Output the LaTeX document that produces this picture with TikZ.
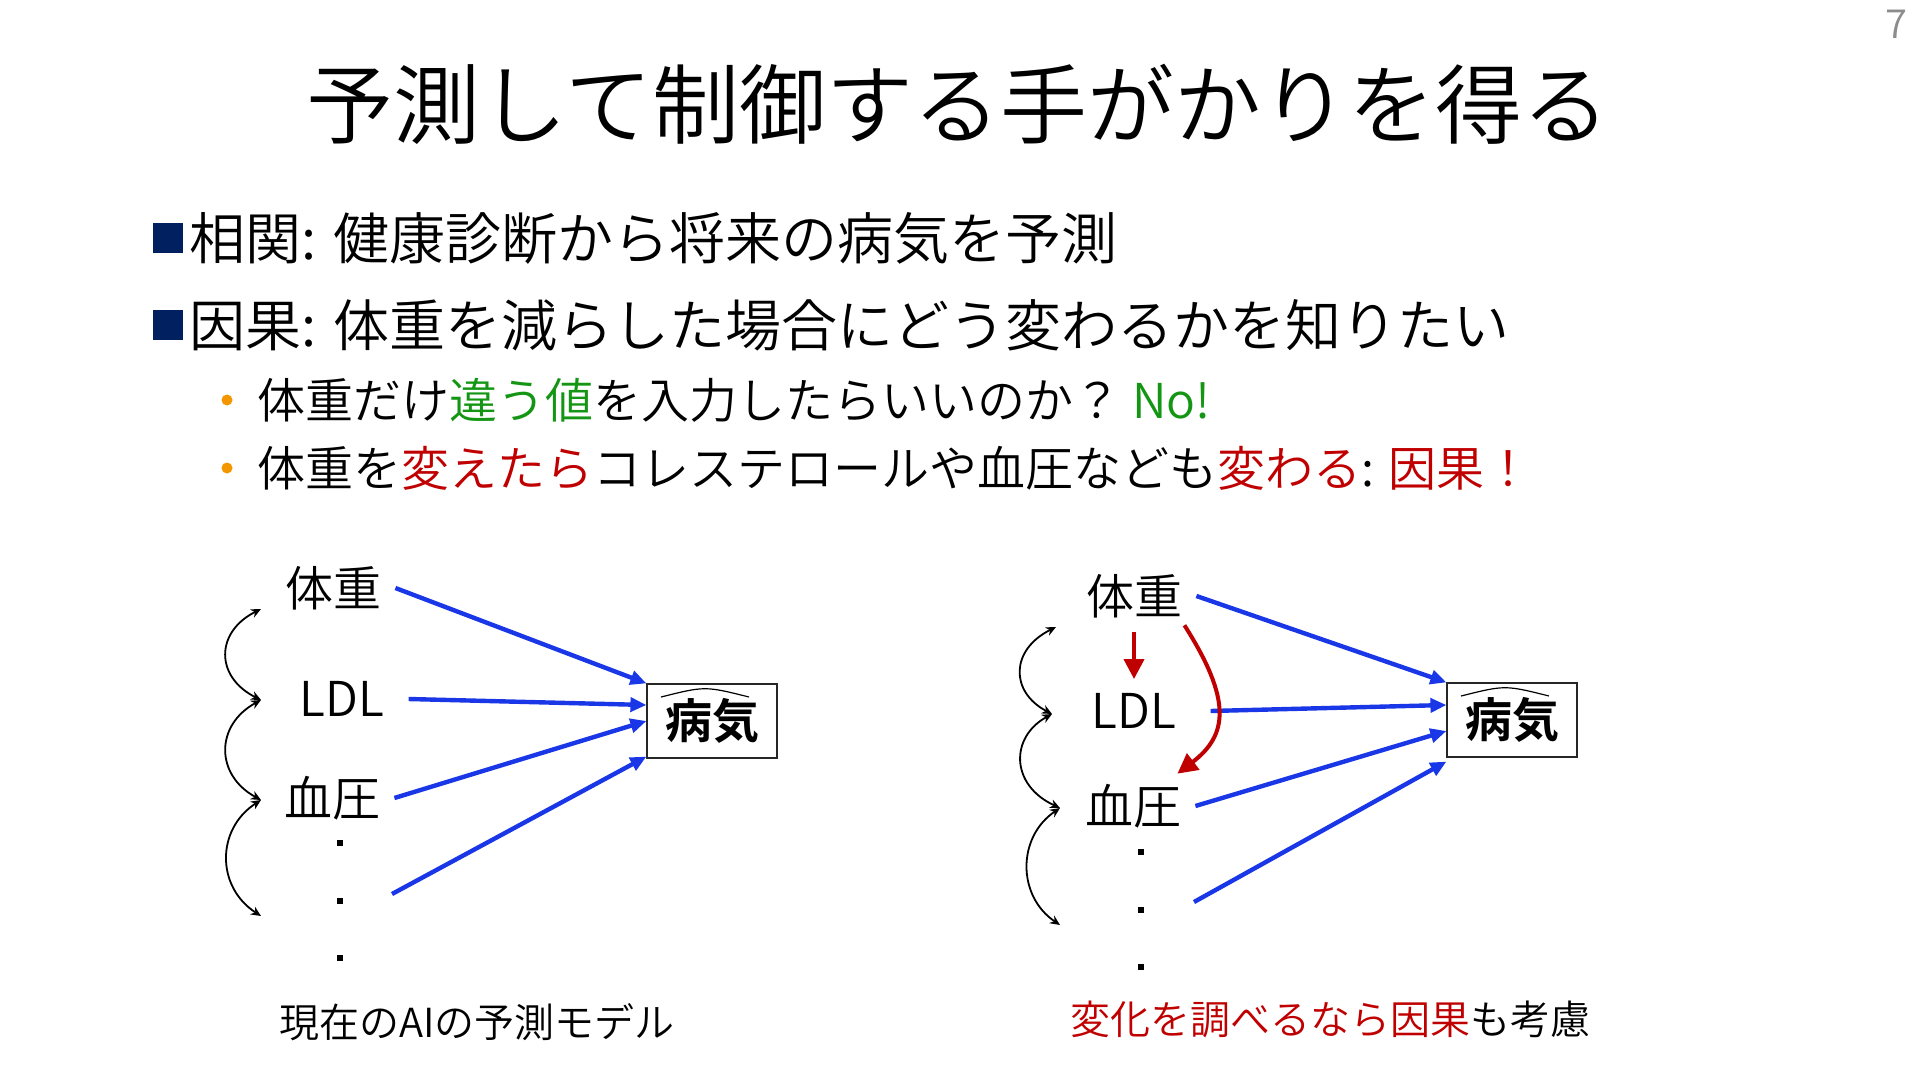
\documentclass[tikz,border=0pt]{standalone}
\usepackage{fontspec}
\IfFontExistsTF{Noto Sans CJK JP DemiLight}
  {\setmainfont{Noto Sans CJK JP DemiLight}[BoldFont={Noto Sans CJK JP Bold}]}
  {\IfFontExistsTF{Noto Sans CJK JP Light}
    {\setmainfont{Noto Sans CJK JP Light}[BoldFont={Noto Sans CJK JP Bold}]}
    {\setmainfont{Noto Sans CJK JP}}}
\usetikzlibrary{arrows.meta, positioning, calc}
\definecolor{bulletnavy}{RGB}{0,32,96}
\definecolor{dotorange}{RGB}{243,150,0}
\definecolor{causered}{RGB}{192,0,0}
\definecolor{okgreen}{RGB}{20,150,20}
\definecolor{arrowblue}{RGB}{25,55,230}
\definecolor{pagegray}{RGB}{140,140,140}

\begin{document}
\begin{tikzpicture}[
  x=0.5pt, y=-0.5pt,
  txt/.style={inner sep=0pt, anchor=west},
  titletext/.style={inner sep=0pt, font=\fontsize{43.5}{52}\selectfont},
  mainline/.style={txt, font=\fontsize{28}{34}\selectfont},
  subline/.style={txt, font=\fontsize{24}{29}\selectfont},
  sqbullet/.style={rectangle, fill=bulletnavy, minimum size=15pt, inner sep=0pt},
  dotbullet/.style={circle, fill=dotorange, minimum size=5.5pt, inner sep=0pt},
  varlabel/.style={inner sep=1pt, font=\fontsize{24}{29}\selectfont},
  moredot/.style={rectangle, fill=black, minimum size=2.6pt, inner sep=0pt},
  predbox/.style={rectangle, draw=black!85, line width=0.6pt, minimum width=65pt, minimum height=37pt, inner sep=0pt, font=\fontsize{23.5}{28}\selectfont\bfseries},
  hatline/.style={line width=0.6pt},
  capline/.style={inner sep=0pt, font=\fontsize{20}{24}\selectfont},
  bluearrow/.style={-{Triangle[length=8pt,width=7pt]}, line width=2.2pt, draw=arrowblue},
  redarrow/.style={-{Triangle[length=10pt,width=10pt]}, line width=2pt, draw=causered},
  corrarc/.style={<->, >={Stealth[length=5pt,width=4.5pt]}, line width=0.9pt}
]
\fill[white] (0,0) rectangle (1920,1080);
\useasboundingbox (0,0) rectangle (1920,1080);

% Title and page number
\node[titletext] (title) at (958,104) {予測して制御する手がかりを得る};
\node[inner sep=0pt, text=pagegray, font=\fontsize{20}{24}\selectfont] (pageno) at (1896,24) {7};

% Bullets
\node[sqbullet] (sq1) at (168,238) {};
\node[mainline, right=3pt of sq1] (corr) {相関: 健康診断から将来の病気を予測};
\node[sqbullet] (sq2) at (168,325) {};
\node[mainline, right=3pt of sq2] (caus) {因果: 体重を減らした場合にどう変わるかを知りたい};
\node[dotbullet] (dt1) at (227,400) {};
\node[subline, right=12pt of dt1] (sub1) {体重だけ\textcolor{okgreen}{違う値}を入力したらいいのか？ \textcolor{okgreen}{No!}};
\node[dotbullet] (dt2) at (227,468) {};
\node[subline, right=12pt of dt2] (sub2) {体重を\textcolor{causered}{変えたら}コレステロールや血圧なども\textcolor{causered}{変わる}: \textcolor{causered}{因果！}};

% Left: current prediction model
\node[varlabel] (lw) at (333,588) {体重};
\node[varlabel] (lldl) at (342,699) {LDL};
\node[varlabel] (lbp) at (332,798) {血圧};
\node[moredot] (ld1) at (340,843) {};
\node[moredot] (ld2) at (340,901) {};
\node[moredot] (ld3) at (340,958) {};
\coordinate (lmore) at (392,894);
\node[predbox] (dz1) at (712,721) {\raisebox{-2pt}{病気}\hspace{7pt}};
\draw[hatline] ($(dz1.center)+(-51,-24)$) .. controls ($(dz1.center)+(-7,-35)$) .. ($(dz1.center)+(37,-24)$);

\draw[bluearrow] ([xshift=6pt]lw.east) -- (dz1.north west);
\draw[bluearrow] ([xshift=11pt]lldl.east) -- ([yshift=8pt]dz1.west);
\draw[bluearrow] ([xshift=6pt]lbp.east) -- (dz1.west);
\draw[bluearrow] (lmore) -- ([yshift=1pt]dz1.south west);

\coordinate (la1) at (261,609);
\coordinate (la2) at (261,700);
\coordinate (la3) at (261,800);
\coordinate (la4) at (261,916);
\draw[corrarc] (la1) .. controls (215,632) and (215,677) .. (la2);
\draw[corrarc] (la2) .. controls (215,725) and (215,775) .. (la3);
\draw[corrarc] (la3) .. controls (216,829) and (216,887) .. (la4);

\node[capline] (lcap) at (477,1022) {現在のAIの予測モデル};

% Right: causal structure
\node[varlabel] (rw) at (1134,596) {体重};
\node[varlabel] (rldl) at (1134,711) {LDL};
\node[varlabel] (rbp) at (1133,806) {血圧};
\node[moredot] (rd1) at (1141,852) {};
\node[moredot] (rd2) at (1141,910) {};
\node[moredot] (rd3) at (1141,967) {};
\coordinate (rmore) at (1194,902);
\node[predbox] (dz2) at (1512,720) {\raisebox{-2pt}{病気}\hspace{7pt}};
\draw[hatline] ($(dz2.center)+(-51,-24)$) .. controls ($(dz2.center)+(-7,-35)$) .. ($(dz2.center)+(37,-24)$);

\draw[bluearrow] ([xshift=6pt]rw.east) -- (dz2.north west);
\draw[bluearrow] ([xshift=16pt]rldl.east) -- ([yshift=7.5pt]dz2.west);
\draw[bluearrow] ([xshift=6pt]rbp.east) -- ([yshift=-5.5pt]dz2.west);
\draw[bluearrow] (rmore) -- ([yshift=-2pt]dz2.south west);

\draw[redarrow] ([yshift=-6pt]rw.south) -- ([yshift=6pt]rldl.north);
\draw[redarrow] ([yshift=-2.5pt]rw.south east) .. controls (1232,700) and (1228,735) .. ([xshift=-3pt,yshift=4pt]rbp.north east);

\coordinate (ra1) at (1056,627);
\coordinate (ra2) at (1052,714);
\coordinate (ra3) at (1060,808);
\coordinate (ra4) at (1060,925);
\draw[corrarc] (ra1) .. controls (1010,650) and (1010,692) .. (ra2);
\draw[corrarc] (ra2) .. controls (1010,737) and (1010,785) .. (ra3);
\draw[corrarc] (ra3) .. controls (1017,837) and (1017,896) .. (ra4);

\node[capline] (rcap) at (1330,1019) {\textcolor{causered}{変化を調べるなら因果}も考慮};

\end{tikzpicture}
\end{document}
